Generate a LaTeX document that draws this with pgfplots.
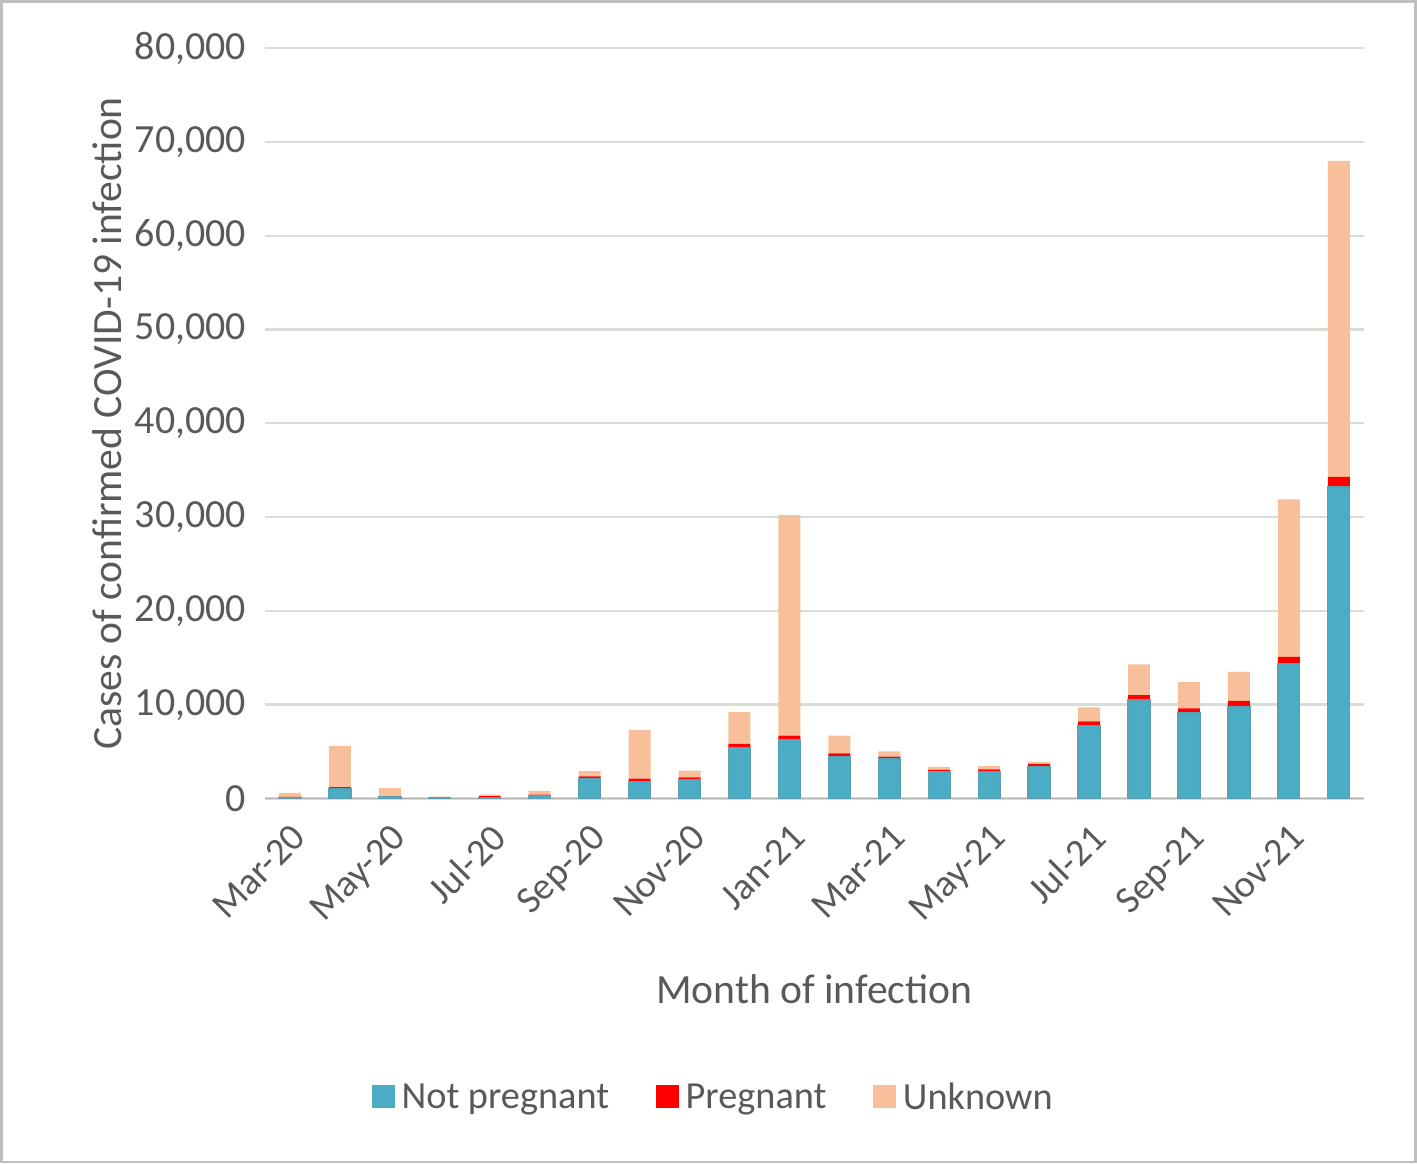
\documentclass[border=0pt]{standalone}
\usepackage{pgfplots}
\pgfplotsset{compat=1.18}
\usepackage{fontspec}
\setmainfont{Carlito}
\definecolor{npc}{RGB}{75,172,198}
\definecolor{pgc}{RGB}{255,0,0}
\definecolor{unc}{RGB}{248,192,154}
\definecolor{txt}{RGB}{89,89,89}
\definecolor{grd}{RGB}{214,222,214}
\begin{document}
\begin{tikzpicture}[x=1pt,y=1pt]
\draw[gray!50,line width=0.8pt] (-79.2,-109.2) rectangle (345.6,239.4);
\begin{axis}[at={(0,0)},anchor=south west,scale only axis,width=330pt,height=225.3pt,
 ybar stacked, bar width=6.6pt,
 xmin=-0.5,xmax=21.5,ymin=0,ymax=80000,
 xtick={0,2,...,20},
 xticklabels={Mar-20,May-20,Jul-20,Sep-20,Nov-20,Jan-21,Mar-21,May-21,Jul-21,Sep-21,Nov-21},
 xticklabel style={rotate=45,anchor=north east,font=\fontsize{11.5}{11.5}\selectfont,text=txt},
 major x tick style={draw=none},
 extra x ticks={-0.5,1.5,...,21.5}, extra x tick labels={},
 extra x tick style={major tick length=4pt,tick style={draw=gray!60},grid=none},
 ytick={0,10000,...,80000},
 yticklabel style={font=\fontsize{12}{12}\selectfont,text=txt,/pgf/number format/assume math mode=true},
 scaled y ticks=false,
 ymajorgrids, grid style={grd,line width=0.7pt},
 axis y line=left, axis x line=bottom, y axis line style={draw=none},
 x axis line style={gray!60,-},
 major y tick style={draw=none},
 xlabel={Month of infection}, xlabel style={font=\fontsize{12.5}{12.5}\selectfont,text=txt,yshift=-2pt},
 ylabel={Cases of confirmed COVID-19 infection}, ylabel style={font=\fontsize{12.5}{12.5}\selectfont,text=txt,yshift=-3pt},
 legend style={at={(0.41,-0.4)},anchor=center,draw=none,legend columns=3,font=\fontsize{11.5}{11.5}\selectfont,text=txt,/tikz/every even column/.append style={column sep=12pt}},
 legend image code/.code={\draw[#1,draw=none] (0pt,-3pt) rectangle (7pt,4pt);},
]
\addplot[fill=npc,draw=npc!70!gray] coordinates {(0,100)(1,1000)(2,200)(3,50)(4,100)(5,300)(6,2100)(7,1800)(8,2000)(9,5400)(10,6300)(11,4500)(12,4200)(13,2900)(14,2900)(15,3400)(16,7800)(17,10500)(18,9100)(19,9800)(20,14400)(21,33200)};
\addplot[fill=pgc,draw=none] coordinates {(0,50)(1,200)(2,50)(3,50)(4,150)(5,100)(6,250)(7,300)(8,250)(9,400)(10,400)(11,300)(12,250)(13,150)(14,200)(15,250)(16,400)(17,500)(18,500)(19,600)(20,700)(21,1100)};
\addplot[fill=unc,draw=none] coordinates {(0,450)(1,4400)(2,850)(3,100)(4,150)(5,400)(6,550)(7,5200)(8,700)(9,3400)(10,23500)(11,1900)(12,550)(13,300)(14,350)(15,250)(16,1500)(17,3300)(18,2800)(19,3100)(20,16800)(21,33700)};
\legend{Not pregnant,Pregnant,Unknown}
\end{axis}
\end{tikzpicture}
\end{document}
